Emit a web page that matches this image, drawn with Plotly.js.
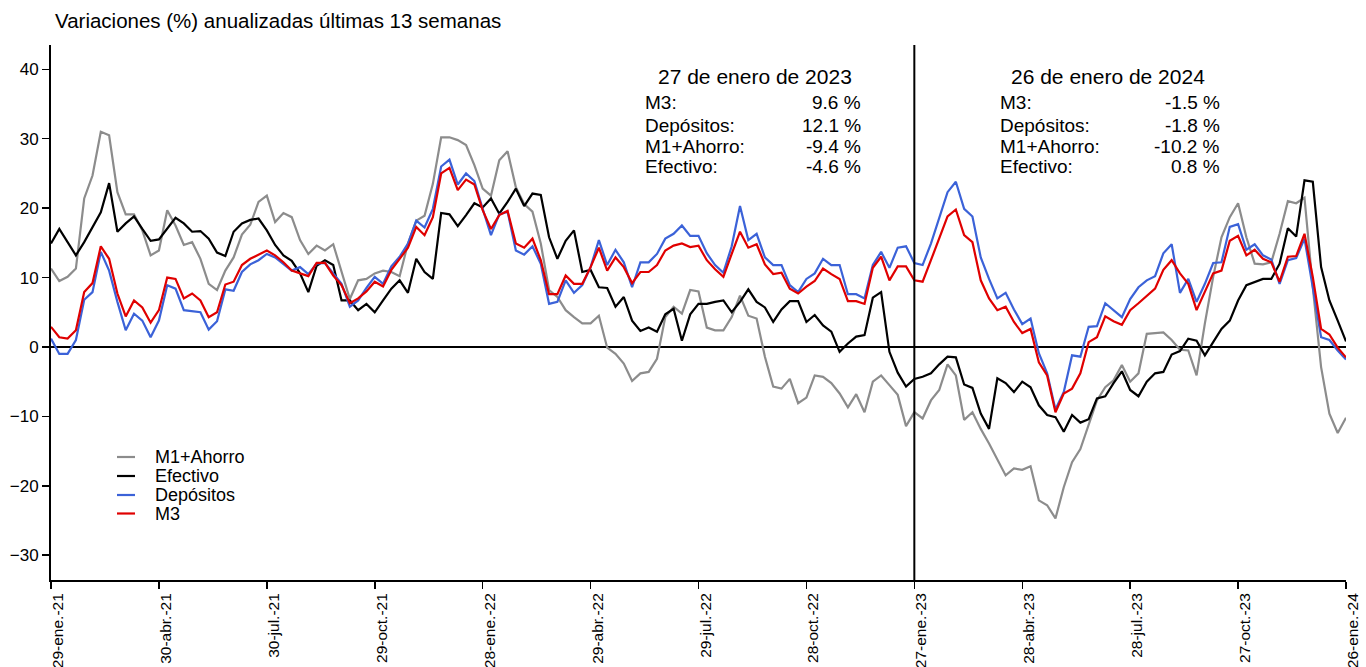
<!DOCTYPE html>
<html>
<head>
<meta charset="utf-8">
<script src="https://cdn.plot.ly/plotly-3.0.1.min.js"></script>
<style>html,body{margin:0;padding:0;background:#fff}#chart{width:1366px;height:667px}</style>
</head>
<body>
<div id="chart"></div>
<script>
// ---- data ----
const startDate = '2021-01-29';   // first weekly observation (Friday)
const nWeeks = 157;               // 29-ene-21 .. 26-ene-24
const tickLabels = ['29-ene.-21','30-abr.-21','30-jul.-21','29-oct.-21','28-ene.-22','29-abr.-22',
  '29-jul.-22','28-oct.-22','27-ene.-23','28-abr.-23','28-jul.-23','27-oct.-23','26-ene.-24'];
const seriesNames = ['M1+Ahorro','Efectivo','Depósitos','M3'];

const m1Ahorro = [
  11.3, 9.5, 10.1, 11.3, 21.4, 24.7, 31.0, 30.5, 22.3, 19.1,
  19.1, 16.8, 13.2, 13.9, 19.7, 17.5, 14.7, 15.1, 12.7, 9.1,
  8.2, 11.0, 12.9, 16.2, 17.6, 20.9, 21.8, 18.0, 19.3, 18.7,
  15.4, 13.4, 14.6, 13.9, 14.8, 11.0, 6.9, 9.6, 9.8, 10.6,
  11.0, 10.8, 10.2, 14.9, 18.2, 18.9, 23.5, 30.2, 30.2, 29.8,
  29.1, 26.2, 22.8, 21.8, 26.9, 28.2, 23.0, 20.6, 19.5, 14.9,
  8.2, 7.2, 5.3, 4.3, 3.4, 3.4, 4.5, -0.1, -1.0, -2.4,
  -4.9, -3.8, -3.6, -1.7, 4.3, 5.8, 4.8, 8.2, 8.0, 2.8,
  2.4, 2.4, 4.3, 7.4, 4.5, 4.1, -1.4, -5.7, -6.0, -4.6,
  -8.1, -7.3, -4.1, -4.3, -5.2, -6.7, -8.7, -6.8, -9.4, -5.0,
  -4.1, -5.5, -6.9, -11.4, -9.4, -10.3, -7.7, -6.2, -2.5, -4.1,
  -10.5, -9.4, -11.8, -13.9, -16.3, -18.5, -17.5, -17.7, -17.2, -22.1,
  -22.8, -24.7, -20.2, -16.6, -14.7, -11.1, -7.7, -5.8, -4.8, -2.6,
  -5.0, -3.8, 1.9, 2.0, 2.1, 1.0, -0.4, -0.5, -4.1, 3.4,
  10.1, 15.8, 18.7, 20.7, 15.8, 12.0, 11.9, 12.2, 16.3, 21.0,
  20.7, 21.5, 8.6, -2.9, -9.6, -12.4, -10.2
];
const efectivo = [
  14.9, 17.0, 15.1, 13.2, 15.1, 17.3, 19.4, 23.6, 16.6, 17.8,
  18.8, 17.0, 15.3, 15.5, 17.0, 18.6, 17.8, 16.6, 16.7, 15.6,
  13.6, 13.1, 16.6, 17.8, 18.3, 18.5, 16.8, 14.7, 13.2, 12.4,
  10.6, 7.9, 11.7, 12.5, 11.8, 6.7, 6.7, 5.3, 6.2, 5.0,
  6.7, 8.4, 9.6, 7.8, 12.7, 10.8, 9.8, 19.3, 19.1, 17.4,
  19.0, 20.7, 20.1, 21.4, 19.2, 20.9, 22.8, 20.3, 22.1, 21.9,
  15.8, 12.7, 15.3, 16.8, 10.8, 11.1, 8.6, 8.5, 5.8, 7.2,
  3.8, 2.3, 2.8, 2.2, 4.7, 5.5, 0.9, 4.7, 6.2, 6.2,
  6.5, 6.7, 5.0, 6.5, 8.3, 6.5, 5.7, 3.6, 5.4, 6.6,
  6.6, 3.6, 4.6, 3.1, 2.2, -0.7, 0.5, 1.5, 1.7, 7.1,
  7.9, -0.7, -3.7, -5.7, -4.6, -4.3, -3.8, -2.5, -1.4, -1.5,
  -5.4, -5.9, -9.6, -11.8, -4.5, -5.2, -6.5, -5.0, -5.8, -8.4,
  -9.8, -10.1, -12.2, -9.8, -10.9, -10.4, -7.4, -7.1, -5.2, -3.5,
  -6.2, -7.1, -5.0, -3.8, -3.6, -1.1, -0.6, 1.2, 0.9, -1.2,
  0.7, 2.6, 3.8, 6.7, 8.9, 9.4, 9.8, 9.8, 12.0, 17.1,
  15.9, 24.0, 23.8, 11.5, 6.7, 3.8, 0.8
];
const depositos = [
  1.2, -1.0, -1.0, 1.0, 6.8, 7.9, 13.7, 11.0, 6.5, 2.4,
  4.8, 3.8, 1.4, 3.8, 8.9, 8.4, 5.3, 5.2, 5.0, 2.5,
  3.7, 8.3, 8.1, 10.8, 11.9, 12.5, 13.4, 12.9, 12.0, 11.0,
  11.5, 10.5, 12.0, 12.1, 10.6, 9.1, 5.8, 6.7, 8.5, 10.1,
  9.1, 11.6, 13.0, 14.9, 18.2, 17.2, 19.9, 26.0, 27.0, 23.4,
  25.0, 23.9, 19.9, 16.1, 19.1, 19.5, 13.9, 13.3, 14.5, 12.0,
  6.2, 6.5, 9.6, 7.8, 8.9, 11.5, 15.4, 11.8, 14.0, 12.2,
  8.6, 12.2, 12.2, 13.4, 15.6, 16.3, 17.5, 16.0, 16.0, 13.5,
  11.8, 10.7, 14.5, 20.3, 15.4, 16.3, 12.9, 11.8, 11.8, 8.9,
  7.9, 9.8, 10.6, 12.7, 11.8, 11.8, 7.6, 7.6, 7.0, 11.8,
  13.7, 11.4, 14.3, 14.5, 12.1, 11.8, 14.9, 18.6, 22.3, 23.8,
  19.9, 18.8, 12.9, 9.8, 7.0, 7.8, 5.4, 3.3, 4.1, -0.9,
  -3.8, -9.0, -6.5, -1.2, -1.4, 2.9, 3.0, 6.3, 5.3, 4.3,
  6.9, 8.6, 9.6, 10.2, 13.5, 14.8, 7.8, 9.8, 6.5, 9.1,
  12.1, 12.2, 17.3, 17.7, 14.0, 14.8, 13.2, 12.6, 9.1, 12.5,
  12.8, 15.6, 8.6, 1.4, 1.0, -0.5, -1.8
];
const m3 = [
  2.9, 1.4, 1.2, 2.4, 7.9, 9.2, 14.5, 12.7, 7.7, 4.4,
  6.7, 5.7, 3.5, 5.3, 10.0, 9.8, 7.0, 7.7, 6.7, 4.3,
  5.0, 9.0, 9.4, 11.8, 12.7, 13.3, 13.9, 13.2, 12.2, 11.0,
  10.6, 10.2, 12.1, 12.1, 10.3, 8.9, 6.3, 7.0, 8.0, 9.4,
  8.7, 11.1, 12.7, 14.3, 17.3, 16.1, 18.7, 25.0, 25.8, 22.6,
  24.1, 23.4, 19.7, 17.0, 19.0, 19.6, 14.9, 14.3, 15.6, 12.5,
  7.6, 7.6, 10.3, 9.1, 9.1, 11.5, 14.3, 11.0, 12.9, 11.5,
  9.2, 10.8, 10.8, 11.8, 13.9, 14.6, 14.9, 14.4, 14.6, 12.5,
  11.2, 10.1, 13.4, 16.6, 14.3, 14.8, 11.9, 10.5, 10.7, 8.4,
  7.7, 8.7, 9.5, 11.3, 10.5, 9.8, 6.6, 6.6, 6.2, 11.4,
  13.0, 9.6, 11.6, 11.6, 9.6, 9.4, 12.5, 15.6, 18.8, 19.8,
  16.1, 15.1, 9.6, 7.0, 5.3, 5.8, 3.6, 2.0, 2.6, -2.2,
  -4.1, -9.4, -6.7, -6.0, -3.8, 0.7, 1.4, 4.4, 3.7, 3.2,
  5.3, 6.3, 7.4, 8.4, 11.1, 12.5, 10.6, 9.1, 5.3, 7.9,
  10.6, 11.0, 15.3, 16.0, 13.2, 14.0, 12.7, 12.2, 9.4, 13.0,
  13.1, 16.3, 10.1, 2.6, 1.8, -0.1, -1.5
];

const subtitleText = 'Variaciones (%) anualizadas últimas 13 semanas';
const boxTitles = ['27 de enero de 2023', '26 de enero de 2024'];
const boxRowLabels = ['M3:', 'Depósitos:', 'M1+Ahorro:', 'Efectivo:'];
const boxValues2023 = ['9.6 %', '12.1 %', '-9.4 %', '-4.6 %'];
const boxValues2024 = ['-1.5 %', '-1.8 %', '-10.2 %', '0.8 %'];
const markerDateIndex = 104; // 27-ene-23

// ---- build ----
function weekly(start, n) {
  const out = [];
  const d0 = new Date(start + 'T00:00:00Z');
  for (let i = 0; i < n; i++) {
    const d = new Date(d0.getTime() + i * 7 * 86400000);
    out.push(d.toISOString().slice(0, 10));
  }
  return out;
}
const dates = weekly(startDate, nWeeks);
const tickVals = tickLabels.map((_, k) => dates[k * 13]);

const FONT = 'Liberation Sans, Arial, Helvetica, sans-serif';
const colors = ['#8c8c8c', '#000000', '#3b62d8', '#e00000'];
const seriesData = [m1Ahorro, efectivo, depositos, m3];

const traces = seriesData.map((ys, k) => ({
  type: 'scatter', mode: 'lines', x: dates, y: ys, name: seriesNames[k],
  line: {color: colors[k], width: 2.2}, showlegend: false, hoverinfo: 'x+y+name'
}));

// pixel -> paper helpers for layout positioning
const L = 51, R = 1346, T = 45, B = 580;
const px = x => (x - L) / (R - L);
const py = y => (B - y) / (B - T);

const annotations = [];
const shapes = [];

annotations.push({xref: 'paper', yref: 'paper', x: px(53), y: py(20), xanchor: 'left', yanchor: 'middle',
  text: subtitleText, showarrow: false, font: {family: FONT, size: 20.5, color: '#000'}});

const boxes = [
  {title: boxTitles[0], values: boxValues2023, cx: 754.5, lx: 643, rx: 863},
  {title: boxTitles[1], values: boxValues2024, cx: 1107.5, lx: 998, rx: 1222}
];
const rowY = [103, 125, 146, 166];
boxes.forEach(b => {
  annotations.push({xref: 'paper', yref: 'paper', x: px(b.cx), y: py(76), xanchor: 'center', yanchor: 'middle',
    text: b.title, showarrow: false, font: {family: FONT, size: 21, color: '#000'}});
  boxRowLabels.forEach((lab, r) => {
    annotations.push({xref: 'paper', yref: 'paper', x: px(b.lx), y: py(rowY[r]), xanchor: 'left', yanchor: 'middle',
      text: lab, showarrow: false, font: {family: FONT, size: 19, color: '#000'}});
    annotations.push({xref: 'paper', yref: 'paper', x: px(b.rx), y: py(rowY[r]), xanchor: 'right', yanchor: 'middle',
      text: b.values[r], showarrow: false, font: {family: FONT, size: 19, color: '#000'}});
  });
});

// manual legend (tight line spacing as in the original)
const legY = [457, 476, 495, 513.5];
seriesNames.forEach((nm, k) => {
  shapes.push({type: 'line', xref: 'paper', yref: 'paper', x0: px(117), x1: px(135), y0: py(legY[k]), y1: py(legY[k]),
    line: {color: colors[k], width: 2.2}});
  annotations.push({xref: 'paper', yref: 'paper', x: px(153), y: py(legY[k]), xanchor: 'left', yanchor: 'middle',
    text: nm, showarrow: false, font: {family: FONT, size: 18, color: '#000'}});
});

// vertical marker line at 27-ene-23
shapes.push({type: 'line', xref: 'x', yref: 'paper', x0: dates[markerDateIndex], x1: dates[markerDateIndex],
  y0: 0, y1: 1, line: {color: '#000', width: 2}, layer: 'above'});

const layout = {
  width: 1366, height: 667,
  margin: {l: L, r: 1366 - R, t: T, b: 667 - B, pad: 0},
  paper_bgcolor: '#fff', plot_bgcolor: '#fff',
  showlegend: false,
  font: {family: FONT, color: '#000'},
  xaxis: {
    type: 'date', range: [dates[0], dates[nWeeks - 1]],
    tickmode: 'array', tickvals: tickVals, ticktext: tickLabels, tickangle: -90,
    ticklabelshift: 7, ticklabelstandoff: -2,
    ticks: 'outside', ticklen: 7, tickwidth: 1.5, tickcolor: '#000',
    showline: true, linecolor: '#000', linewidth: 2,
    showgrid: false, zeroline: false, tickfont: {family: FONT, size: 15.5, color: '#000'}
  },
  yaxis: {
    range: [-33.57, 43.5], tickmode: 'array', tickvals: [-30, -20, -10, 0, 10, 20, 30, 40],
    ticks: 'outside', ticklen: 7, tickwidth: 1.5, tickcolor: '#000',
    showline: true, linecolor: '#000', linewidth: 2,
    showgrid: false, zeroline: true, zerolinecolor: '#000', zerolinewidth: 1.6,
    tickfont: {family: FONT, size: 17, color: '#000'}
  },
  annotations: annotations,
  shapes: shapes
};

Plotly.newPlot('chart', traces, layout, {displayModeBar: false, staticPlot: true});
</script>
</body>
</html>
